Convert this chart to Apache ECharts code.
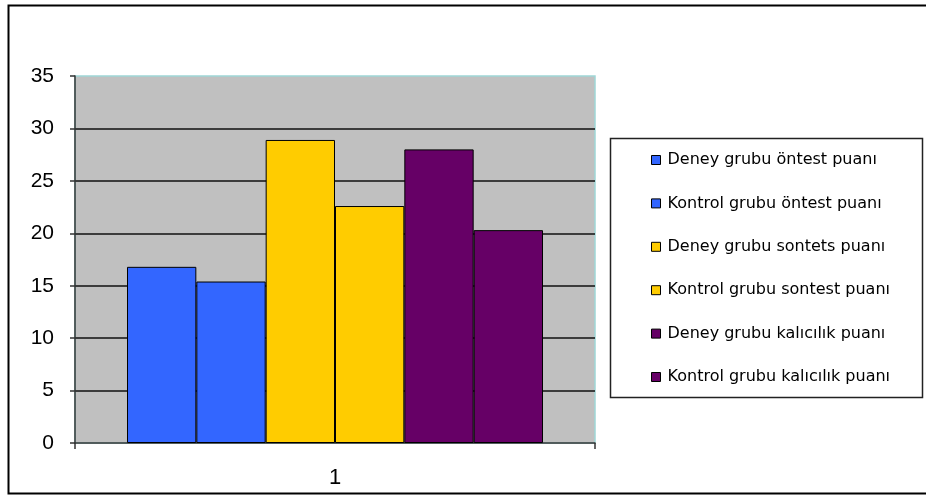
<!DOCTYPE html>
<html>
<head>
<meta charset="utf-8">
<script src="https://cdn.jsdelivr.net/npm/echarts@6/dist/echarts.min.js"></script>
<style>
html,body{margin:0;padding:0;background:#fff;}
#chart{width:926px;height:496px;}
</style>
</head>
<body>
<div id="chart"></div>
<script>
var categories = ['1'];
var seriesNames = [
  'Deney grubu öntest puanı',
  'Kontrol grubu öntest puanı',
  'Deney grubu sontets puanı',
  'Kontrol grubu sontest puanı',
  'Deney grubu kalıcılık puanı',
  'Kontrol grubu kalıcılık puanı'
];
var seriesValues = [16.8, 15.4, 28.9, 22.6, 28.0, 20.3];
var seriesColors = ['#3366FF', '#3366FF', '#FFCC00', '#FFCC00', '#660066', '#660066'];
var yTicks = { min: 0, max: 35, interval: 5 };

var chart = echarts.init(document.getElementById('chart'), null, { renderer: 'canvas' });

var series = seriesNames.map(function (name, i) {
  return {
    name: name,
    type: 'bar',
    data: [seriesValues[i]],
    barGap: '0%',
    barCategoryGap: '20%',
    itemStyle: { color: seriesColors[i], borderColor: '#000', borderWidth: 1 },
    emphasis: { disabled: true },
    animation: false
  };
});

var option = {
  animation: false,
  textStyle: { fontFamily: 'Liberation Sans' },
  graphic: [
    {
      type: 'rect', z: -10,
      shape: { x: 8.5, y: 5.5, width: 930, height: 488 },
      style: { fill: '#fff', stroke: '#000', lineWidth: 2 }
    },
    {
      type: 'rect', z: 0,
      shape: { x: 610.5, y: 138.5, width: 312, height: 259 },
      style: { fill: '#fff', stroke: '#222', lineWidth: 1.5 }
    }
  ],
  grid: {
    left: 75, right: 331, top: 76, bottom: 53,
    show: true, backgroundColor: '#C0C0C0', borderColor: '#9fd6d6', borderWidth: 1.5
  },
  legend: {
    orient: 'vertical',
    left: 651, top: 152,
    padding: 0,
    itemGap: 27.4,
    itemWidth: 9, itemHeight: 9,
    icon: 'rect',
    z: 5,
    selectedMode: false,
    textStyle: { fontFamily: 'DejaVu Sans', fontSize: 16, lineHeight: 16, color: '#000', padding: [0, 0, 0, 2] },
    itemStyle: { borderColor: '#000', borderWidth: 1 },
    data: seriesNames
  },
  xAxis: {
    type: 'category',
    data: categories,
    axisLine: { show: true, lineStyle: { color: '#333', width: 1.5 } },
    axisTick: { show: true, length: 6, lineStyle: { color: '#333', width: 1.5 } },
    axisLabel: { fontFamily: 'Liberation Sans', fontSize: 22, color: '#000', margin: 24 }
  },
  yAxis: {
    type: 'value',
    min: yTicks.min, max: yTicks.max, interval: yTicks.interval,
    axisLine: { show: true, lineStyle: { color: '#333', width: 1.5 } },
    axisTick: { show: true, length: 5, lineStyle: { color: '#333', width: 1.5 } },
    axisLabel: { fontFamily: 'Liberation Sans', fontSize: 21, color: '#000', margin: 21 },
    splitLine: { show: true, showMinLine: false, showMaxLine: false, lineStyle: { color: '#111', width: 1.5 } }
  },
  series: series
};
chart.setOption(option);
</script>
</body>
</html>
